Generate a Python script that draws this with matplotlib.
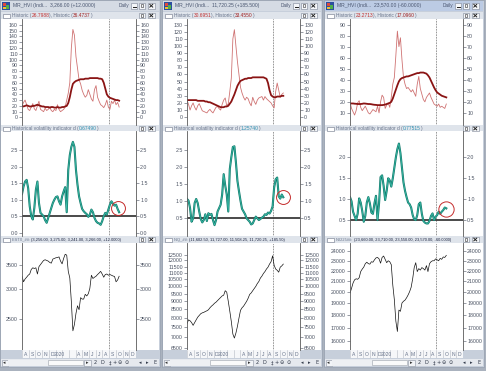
import numpy as np
import matplotlib.pyplot as plt
from matplotlib.patches import Rectangle

plt.rcParams['font.family'] = ['Liberation Sans', 'DejaVu Sans']

# weekly samples, Aug 2019 .. mid Oct 2020
weeks = np.arange(64)
months = weeks * 7 / 30.44   # months since 1 Aug 2019

month_labels = ['A', 'S', 'O', 'N', 'D', '2020', '', '', 'A', 'M', 'J', 'J', 'A', 'S', 'O', 'N', 'D']

# ---- ESTX (left window)
es_vol_short = [20, 26, 30, 22, 14, 12, 18, 24, 15, 12, 20, 28, 14, 12, 10, 16, 12, 14, 18, 12,
                10, 14, 12, 22, 14, 10, 12, 14, 18, 30, 42, 60, 120, 152, 142, 105, 85, 65, 58, 47,
                40, 35, 38, 48, 40, 32, 28, 48, 55, 35, 28, 22, 20, 17, 22, 30, 18, 14, 28, 24,
                30, 22, 26, 18]
es_vol_long = [20, 19, 20, 21, 20, 19, 19, 20, 20, 21, 22, 21, 20, 19, 19, 18, 18, 18, 17, 18,
               18, 17, 17, 18, 17, 17, 18, 18, 19, 20, 25, 35, 48, 58, 61, 63, 64, 65, 66, 66,
               66, 67, 67, 67, 68, 68, 68, 68, 68, 68, 67, 67, 66, 60, 50, 40, 36, 34, 33, 32,
               31, 30, 30, 29]
es_hvi = [1.17, 1.40, 1.55, 1.60, 1.35, 0.80, 0.50, 0.40, 0.75, 1.30, 1.55, 0.90, 0.60, 0.55, 0.50,
          0.38, 0.30, 0.45, 0.60, 0.75, 0.90, 1.00, 1.08, 1.10, 0.95, 0.85, 1.10, 1.25, 1.38, 0.62,
          1.90, 2.35, 2.60, 2.75, 2.60, 1.90, 1.45, 1.10, 0.90, 0.72, 0.65, 0.60, 0.56, 0.48, 0.55,
          0.70, 0.62, 0.45, 0.35, 0.30, 0.28, 0.24, 0.35, 0.50, 0.60, 0.55, 0.70, 0.85, 0.95, 0.88,
          0.82, 0.85, 0.72, 0.62]
es_px = [3255, 3145, 3200, 3235, 3275, 3300, 3395, 3430, 3415, 3430, 3300, 3455, 3500, 3545, 3590,
         3605, 3590, 3575, 3545, 3530, 3620, 3635, 3650, 3655, 3670, 3575, 3515, 3635, 3730, 3710,
         3355, 3220, 2780, 2320, 2415, 2585, 2710, 2645, 2850, 2825, 2825, 2910, 2880, 2920, 3020,
         3275, 3210, 3235, 3255, 3290, 3320, 3355, 3300, 3235, 3290, 3300, 3275, 3290, 3275, 3260,
         3250, 3145, 3180, 3255]

# ---- NQ (middle window)
nq_vol_short = [24, 18, 10, 16, 20, 14, 10, 16, 19, 14, 9, 8, 7, 6, 9, 11, 8, 6, 10, 14,
                15, 12, 10, 18, 24, 27, 16, 19, 36, 55, 110, 123, 100, 78, 60, 42, 34, 28, 24, 28,
                26, 20, 16, 28, 22, 18, 24, 27, 28, 29, 24, 29, 26, 24, 22, 20, 16, 13, 36, 48,
                38, 28, 32, 34]
nq_vol_long = [24, 24, 24, 24, 24, 24, 24, 23, 23, 23, 23, 23, 22, 22, 21, 21, 20, 19, 18, 17,
               16, 15, 14, 14, 14, 15, 15, 16, 19, 22, 27, 32, 38, 44, 48, 51, 52, 53, 54, 54,
               55, 55, 55, 56, 56, 56, 56, 56, 56, 56, 56, 55, 54, 48, 38, 31, 29, 28, 28, 29,
               29, 29, 30, 30]
nq_hvi = [1.07, 1.02, 0.80, 0.40, 0.50, 0.95, 1.07, 0.95, 0.70, 0.48, 0.38, 0.45, 0.62, 0.42, 0.65,
          0.60, 0.63, 0.45, 0.30, 0.45, 0.70, 0.80, 0.90, 1.20, 1.80, 1.47, 1.20, 0.70, 1.95, 2.30,
          2.60, 2.62, 2.15, 1.60, 1.30, 1.02, 0.78, 0.70, 0.62, 0.50, 0.45, 0.40, 0.32, 0.35, 0.45,
          0.55, 0.50, 0.45, 0.48, 0.52, 0.55, 0.62, 0.60, 0.67, 0.64, 0.72, 0.85, 1.40, 1.65, 1.70,
          1.15, 1.08, 1.20, 1.12]
nq_px = [7700, 7900, 7850, 7750, 7600, 7750, 7900, 8050, 8150, 8250, 8300, 8330, 8380, 8420, 8480,
         8600, 8700, 8780, 8880, 8950, 9050, 9150, 9250, 9350, 9400, 9700, 9600, 9000, 8400, 7800,
         7150, 6950, 7200, 7550, 8000, 8450, 8600, 8700, 8850, 9000, 9200, 9450, 9550, 9700, 9850,
         10000, 10200, 10350, 10600, 10750, 10950, 11100, 11300, 11450, 11700, 11900, 12400, 11600,
         11300, 11200, 11050, 11450, 11550, 11700]

# ---- NI225 (right window)
nk_vol_short = [20, 14, 11, 8, 12, 19, 21, 15, 12, 14, 16, 13, 10, 9, 11, 13, 12, 11, 16, 10,
                20, 26, 24, 14, 17, 19, 15, 24, 36, 42, 62, 84, 70, 78, 58, 42, 36, 32, 33, 31,
                29, 31, 28, 25, 36, 43, 32, 27, 22, 20, 24, 26, 28, 24, 21, 18, 17, 16, 18, 15,
                16, 15, 14, 18]
nk_vol_long = [18.5, 18.5, 18.5, 18.3, 18.2, 18.0, 18.0, 18.0, 18.2, 18.5, 18.4, 18.2, 18.0, 18.0,
               17.8, 17.5, 17.3, 17.2, 17.0, 17.0, 17.0, 17.0, 17.2, 17.5, 18.0, 18.5, 19.0, 20.0,
               23.0, 27.0, 31.0, 35.0, 38.5, 40.5, 41.5, 42.0, 42.5, 43.0, 43.0, 43.5, 44.0, 44.5,
               45.0, 45.5, 46.0, 46.0, 46.5, 46.5, 46.5, 46.0, 45.5, 44.0, 42.0, 39.0, 36.0, 33.0,
               30.5, 28.5, 27.5, 26.5, 25.5, 25.0, 24.5, 24.0]
nk_hvi = [1.05, 0.95, 0.70, 0.60, 0.50, 0.65, 1.02, 0.92, 0.72, 0.46, 0.60, 0.92, 1.05, 0.90, 0.68,
          0.65, 0.90, 1.08, 0.50, 0.90, 1.53, 1.57, 1.32, 0.98, 1.20, 1.50, 1.45, 1.30, 1.50, 1.75,
          2.00, 2.20, 2.33, 2.10, 1.75, 1.40, 1.20, 1.05, 0.92, 0.88, 0.80, 0.62, 0.52, 0.50, 0.62,
          0.88, 0.92, 0.65, 0.48, 0.44, 0.42, 0.42, 0.48, 0.60, 0.66, 0.50, 0.58, 0.62, 0.70, 0.65,
          0.70, 0.74, 0.80, 0.78]
nk_px = [19870, 20300, 20800, 21100, 21200, 21150, 21300, 21900, 22150, 22350, 22700, 22850, 22700,
         22650, 22900, 22850, 23100, 23300, 23350, 23200, 22750, 23350, 23500, 23150, 22800, 23000,
         22900, 22600, 20600, 19300, 17500, 16700, 18400, 18300, 19000, 19150, 19250, 19450, 19700,
         20000, 20400, 21200, 22300, 22800, 21900, 22200, 22050, 22300, 22200, 22050, 22500, 21900,
         22700, 22900, 23000, 23000, 23200, 23100, 23000, 23250, 23150, 23400, 23350, 23570]

windows = [
    dict(x0=0, axl=22, axr=136, active=False,
         title='MR_HVI (Indi...', quote='3,266.00 (+12.0000)',
         h1='26.7988', h2='36.4737', hvi_val='0.67490',
         sym='ESTX_##: ', ohlc='(3,256.00, 3,275.00, 3,241.00, 3,266.00, +12.0000)',
         short=es_vol_short, long=es_vol_long, hvi=es_hvi, px=es_px,
         vlim=(-13, 170), vticks=list(range(0, 161, 10)),
         hlim=(-0.1, 3.08), hticks=[0.0, 0.5, 1.0, 1.5, 2.0, 2.5],
         plim=(2060, 4000), pticks=[2500, 3000, 3500], ms=10),
    dict(x0=162, axl=187, axr=300, active=False,
         title='MR_HVI (Indi...', quote='11,720.25 (+185.500)',
         h1='30.6951', h2='33.4550', hvi_val='1.25740',
         sym='NQ_##: ', ohlc='(11,602.50, 11,727.00, 11,508.25, 11,720.25, +185.50)',
         short=nq_vol_short, long=nq_vol_long, hvi=nq_hvi, px=nq_px,
         vlim=(-11, 138), vticks=list(range(0, 131, 10)),
         hlim=(-0.02, 3.07), hticks=[0.5, 1.0, 1.5, 2.0, 2.5],
         plim=(6390, 13570), pticks=list(range(6500, 12501, 500)), ms=10),
    dict(x0=324, axl=350, axr=463, active=True,
         title='MR_HVI (Indi...', quote='23,570.00 (-60.0000)',
         h1='23.2713', h2='17.0960', hvi_val='0.77515',
         sym='NI225##: ', ohlc='(23,660.00, 23,710.00, 23,550.00, 23,570.00, -60.0000)',
         short=nk_vol_short, long=nk_vol_long, hvi=nk_hvi, px=nk_px,
         vlim=(-1, 95), vticks=list(range(10, 91, 10)),
         hlim=(0.12, 2.63), hticks=[0.5, 1.0, 1.5, 2.0],
         plim=(15360, 24925), pticks=list(range(16000, 24001, 1000)), ms=11),
]

W, H = 486, 371
fig = plt.figure(figsize=(4.86, 3.71), dpi=100)
bg = fig.add_axes([0, 0, 1, 1])
bg.set_xlim(0, W)
bg.set_ylim(H, 0)
bg.axis('off')
bg.add_patch(Rectangle((0, 0), W, H, fc='#aab2be', ec='none', zorder=0))

FS = 3.8
GRAY = '#66728a'


def box(x, y, w, h, fc, ec='none', lw=0.4, z=1):
    bg.add_patch(Rectangle((x, y), w, h, fc=fc, ec=ec, lw=lw, zorder=z))


def rich(x, y, parts, size):
    t = bg.text(x, y, parts[0][0], color=parts[0][1], fontsize=size, va='center', ha='left', zorder=2)
    for s, c in parts[1:]:
        t = bg.annotate(s, xy=(1, 0), xycoords=t, va='bottom', ha='left', color=c,
                        fontsize=size, zorder=2)
    return t


def buttons(x0, y, with_min=False):
    # small window buttons at the right end of a bar
    box(x0 + 139, y, 6, 5.5, '#f4f6f9', '#7d8596', z=3)
    box(x0 + 140.8, y + 1.3, 2.6, 2.6, 'none', '#303030', lw=0.4, z=4)
    box(x0 + 148, y, 6.5, 5.5, '#f4f6f9', '#7d8596', z=3)
    bg.plot([x0 + 149.8, x0 + 152.7], [y + 1.4, y + 4.1], color='#202020', lw=0.7, zorder=4)
    bg.plot([x0 + 149.8, x0 + 152.7], [y + 4.1, y + 1.4], color='#202020', lw=0.7, zorder=4)
    if with_min:
        box(x0 + 131, y, 6, 5.5, '#f4f6f9', '#7d8596', z=3)
        bg.plot([x0 + 132.5, x0 + 135.5], [y + 4.2, y + 4.2], color='#202020', lw=0.7, zorder=4)


def axes_px(x0, x1, y0, y1):
    return fig.add_axes([x0 / W, 1 - y1 / H, (x1 - x0) / W, (y1 - y0) / H])


def style(ax, lim, ticks, labels, log=False):
    if log:
        ax.set_yscale('log')
    ax.set_xlim(0, 17)
    ax.set_ylim(*lim)
    ax.set_yticks(ticks)
    ax.set_yticklabels(labels)
    ax.minorticks_off()
    ax.set_facecolor('white')
    ax.tick_params(axis='y', left=True, right=True, labelleft=True, labelright=True,
                   direction='out', length=2, width=0.4, pad=1, labelsize=FS, colors='#4a5262')
    ax.tick_params(axis='x', bottom=False, labelbottom=False)
    for s in ['top', 'bottom']:
        ax.spines[s].set_visible(False)
    for s in ['left', 'right']:
        ax.spines[s].set_linewidth(0.6)
        ax.spines[s].set_color('#5a5a5a')
    ax.axvline(13, color='#303030', ls=(0, (1, 1.3)), lw=0.5)


for wdw in windows:
    x0 = wdw['x0']
    # window frame and title bar
    box(x0, 0, 160, 367, '#c7cfdb', '#8c95a5')
    box(x0 + 1, 1, 158, 10, '#bccbe4' if wdw['active'] else '#d5dbe4')
    box(x0 + 2, 2, 8, 8, '#2d4f9e', z=2)
    box(x0 + 3, 3, 3, 3, '#e0483c', z=3)
    box(x0 + 6, 5, 3, 4, '#4fb04a', z=3)
    box(x0 + 3, 6.5, 2.5, 2.5, '#f0c030', z=3)
    bg.text(x0 + 13, 6, wdw['title'], fontsize=3.6, color='#4a5670', va='center', zorder=2)
    bg.text(x0 + 50, 6, wdw['quote'], fontsize=3.6, color='#4a5670', va='center', zorder=2)
    bg.text(x0 + 119, 6, 'Daily', fontsize=3.4, color='#4a5670', va='center', zorder=2)
    buttons(x0, 3, with_min=True)

    # panel title strips
    strips = [
        (12, 3.5, [('Historic (', GRAY), (wdw['h1'], '#c03030'), ('), Historic (', GRAY),
                   (wdw['h2'], '#a02020'), (')', GRAY)]),
        (125, 3.5, [('Historical volatility indicator d (', GRAY), (wdw['hvi_val'], '#2f8fb0'),
                    (')', GRAY)]),
        (236, 2.85, [(wdw['sym'], GRAY), (wdw['ohlc'], '#1c2440')]),
    ]
    for y, size, parts in strips:
        box(x0 + 1, y, 158, 7, '#dfe4eb')
        box(x0 + 3, y + 1.5, 7, 4.5, 'white', '#6a7385', z=2)
        rich(x0 + 12, y + 3.6, parts, size)
        buttons(x0, y + 0.8)

    # white panel areas
    for y0, y1 in [(19, 125), (131, 236), (243, 350)]:
        box(x0 + 1, y0, 158, y1 - y0, 'white')

    axl, axr = wdw['axl'], wdw['axr']

    # historic volatility
    a1 = axes_px(axl, axr, 19, 125)
    style(a1, wdw['vlim'], wdw['vticks'], [str(t) for t in wdw['vticks']])
    a1.plot(months, wdw['short'], color='#cf7272', lw=0.6)
    a1.plot(months, wdw['long'], color='#8a1414', lw=1.3)

    # volatility indicator
    a2 = axes_px(axl, axr, 131, 236)
    style(a2, wdw['hlim'], wdw['hticks'], ['%.1f' % t for t in wdw['hticks']])
    a2.axhline(0.5, color='#3c3c3c', lw=1.3)
    a2.plot(months, wdw['hvi'], color='#137a6c', lw=1.5)
    a2.plot(months, wdw['hvi'], color='#3cc0ac', lw=0.5)
    a2.plot(months[-2:].mean(), np.mean(wdw['hvi'][-4:]), 'o', ms=wdw['ms'], mfc='none',
            mec='#c42a2a', mew=0.7)

    # price
    a3 = axes_px(axl, axr, 243, 350)
    style(a3, wdw['plim'], wdw['pticks'], [str(t) for t in wdw['pticks']], log=True)
    a3.plot(months, wdw['px'], color='#111111', lw=0.5)

    # month strip
    am = axes_px(axl, axr, 350, 358)
    am.set_xlim(0, 17)
    am.set_ylim(0, 1)
    am.set_facecolor('#f6f7f9')
    for s in am.spines.values():
        s.set_visible(False)
    am.set_xticks([])
    am.set_yticks([])
    for m, lab in enumerate(month_labels):
        am.axvline(m, color='#b4b9c2', lw=0.4)
        if lab:
            am.text(m + 0.5, 0.45, lab, fontsize=3.6, color=GRAY, ha='center', va='center')

    # scroll bar and navigation icons
    box(x0 + 1, 359, 158, 7, '#e6e9ee')
    box(x0 + 1.5, 359.5, 6.5, 6, '#f2f4f7', '#8a92a0', z=2)
    bg.text(x0 + 4.7, 362.6, '\u25c2', fontsize=3.5, ha='center', va='center', color='#303030',
            zorder=3, family='DejaVu Sans')
    box(x0 + 8, 359.5, 76, 6, '#eef0f3', z=2)
    box(x0 + 48, 360, 35, 5, '#fafafa', '#9aa0aa', z=3)
    box(x0 + 84, 359.5, 6.5, 6, '#f2f4f7', '#8a92a0', z=2)
    bg.text(x0 + 87.2, 362.6, '\u25b8', fontsize=3.5, ha='center', va='center', color='#303030',
            zorder=3, family='DejaVu Sans')
    for dx, g in zip([95, 102, 110, 115, 120, 127, 140, 147, 155],
                     ['2', 'D', '\u2021', '+', '\u2296', '\u2299', '\u25c2', '\u25b8', 'E']):
        bg.text(x0 + dx, 362.6, g, fontsize=3.6, ha='center', va='center', color='#303848',
                zorder=3, family='DejaVu Sans')

fig.savefig('out.png', dpi=100)
